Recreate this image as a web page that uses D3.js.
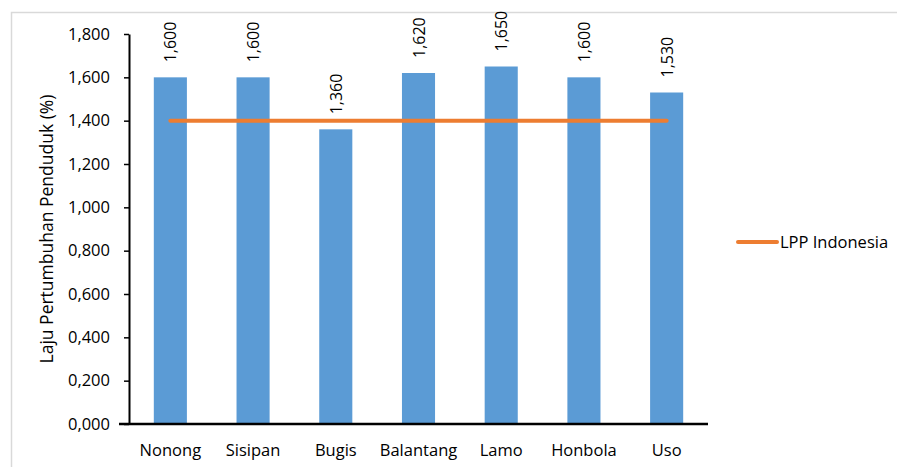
<!DOCTYPE html>
<html>
<head>
<meta charset="utf-8">
<script src="https://cdn.jsdelivr.net/npm/d3@7"></script>
<style>
  body { margin: 0; background: #fff; }
  text { font-family: "Open Sans", "Noto Sans", sans-serif; fill: #404040; }
</style>
</head>
<body>
<svg id="chart"></svg>
<script>
var categories = ['Nonong', 'Sisipan', 'Bugis', 'Balantang', 'Lamo', 'Honbola', 'Uso'];
var values = [1.600, 1.600, 1.360, 1.620, 1.650, 1.600, 1.530];
var lppIndonesia = [1.4, 1.4, 1.4, 1.4, 1.4, 1.4, 1.4];
var yTicks = [0, 0.2, 0.4, 0.6, 0.8, 1.0, 1.2, 1.4, 1.6, 1.8];

var width = 897;
var height = 467;
var margin = {top: 34, left: 129, bottom: 43};
var plotRight = 708;

var svg = d3.select('#chart')
    .attr('width', width)
    .attr('height', height);

// outer chart border
svg.append('rect')
    .attr('x', 11.5).attr('y', 12.5)
    .attr('width', width).attr('height', height)
    .attr('fill', 'none')
    .attr('stroke', '#d9d9d9')
    .attr('stroke-width', 1.5);

// comma as decimal separator
var fmt = function(v) { return d3.format('.3f')(v).replace('.', ','); };

var x = d3.scaleBand()
    .domain(categories)
    .range([margin.left, plotRight])
    .paddingInner(0.6)
    .paddingOuter(0.3);

var y = d3.scaleLinear()
    .domain([0, 1.8])
    .range([height - margin.bottom, margin.top]);

svg.selectAll('.bar')
    .data(values)
    .enter()
    .append('rect')
    .attr('class', 'bar')
    .attr('x', (d, i) => x(categories[i]))
    .attr('y', d => y(d))
    .attr('width', x.bandwidth())
    .attr('height', d => y(0) - y(d))
    .attr('fill', '#5b9bd5');

// rotated data labels
svg.selectAll('.lbl')
    .data(values)
    .enter()
    .append('text')
    .attr('class', 'lbl')
    .attr('transform', (d, i) => `translate(${x(categories[i]) + x.bandwidth() / 2 + 6}, ${y(d) - 15}) rotate(-90)`)
    .style('font-size', '16px')
    .style('fill', '#000')
    .text(d => fmt(d));

// LPP Indonesia line
var line = d3.line()
    .x((d, i) => x(categories[i]) + x.bandwidth() / 2)
    .y(d => y(d));

svg.append('path')
    .datum(lppIndonesia)
    .attr('d', line)
    .attr('fill', 'none')
    .attr('stroke', '#ed7d31')
    .attr('stroke-width', 4)
    .attr('stroke-linecap', 'round');

// axes
var yAxis = svg.append('g')
    .attr('transform', `translate(${margin.left},0)`)
    .call(d3.axisLeft(y).tickValues(yTicks).tickFormat(fmt).tickSize(5).tickSizeOuter(0));
yAxis.select('.domain').attr('stroke', '#000').attr('stroke-width', 2);
yAxis.selectAll('.tick line').attr('stroke', '#000').attr('stroke-width', 1.5);
yAxis.selectAll('.tick text')
    .attr('x', -19)
    .style('font-size', '16.5px')
    .style('fill', '#000')
    .style('font-family', '"Open Sans", sans-serif');

var xAxis = svg.append('g')
    .attr('transform', `translate(0,${y(0)})`)
    .call(d3.axisBottom(x).tickSize(0).tickSizeOuter(0));
xAxis.select('.domain').attr('stroke', '#000').attr('stroke-width', 2.5)
    .attr('d', `M${margin.left - 10},0H${plotRight}`);
xAxis.selectAll('.tick text')
    .attr('y', 20)
    .style('font-size', '16.5px')
    .style('fill', '#000')
    .style('font-family', '"Open Sans", sans-serif');

// axis title
svg.append('text')
    .attr('transform', `translate(53, ${(y(0) + y(1.8)) / 2}) rotate(-90)`)
    .attr('text-anchor', 'middle')
    .style('font-size', '17.5px')
    .style('fill', '#000')
    .text('Laju Pertumbuhan Penduduk (%)');

// legend
svg.append('line')
    .attr('x1', 738).attr('x2', 777)
    .attr('y1', 242).attr('y2', 242)
    .attr('stroke', '#ed7d31')
    .attr('stroke-width', 4)
    .attr('stroke-linecap', 'round');
svg.append('text')
    .attr('x', 780).attr('y', 248)
    .style('font-size', '16.5px')
    .style('fill', '#000')
    .text('LPP Indonesia');
</script>
</body>
</html>
